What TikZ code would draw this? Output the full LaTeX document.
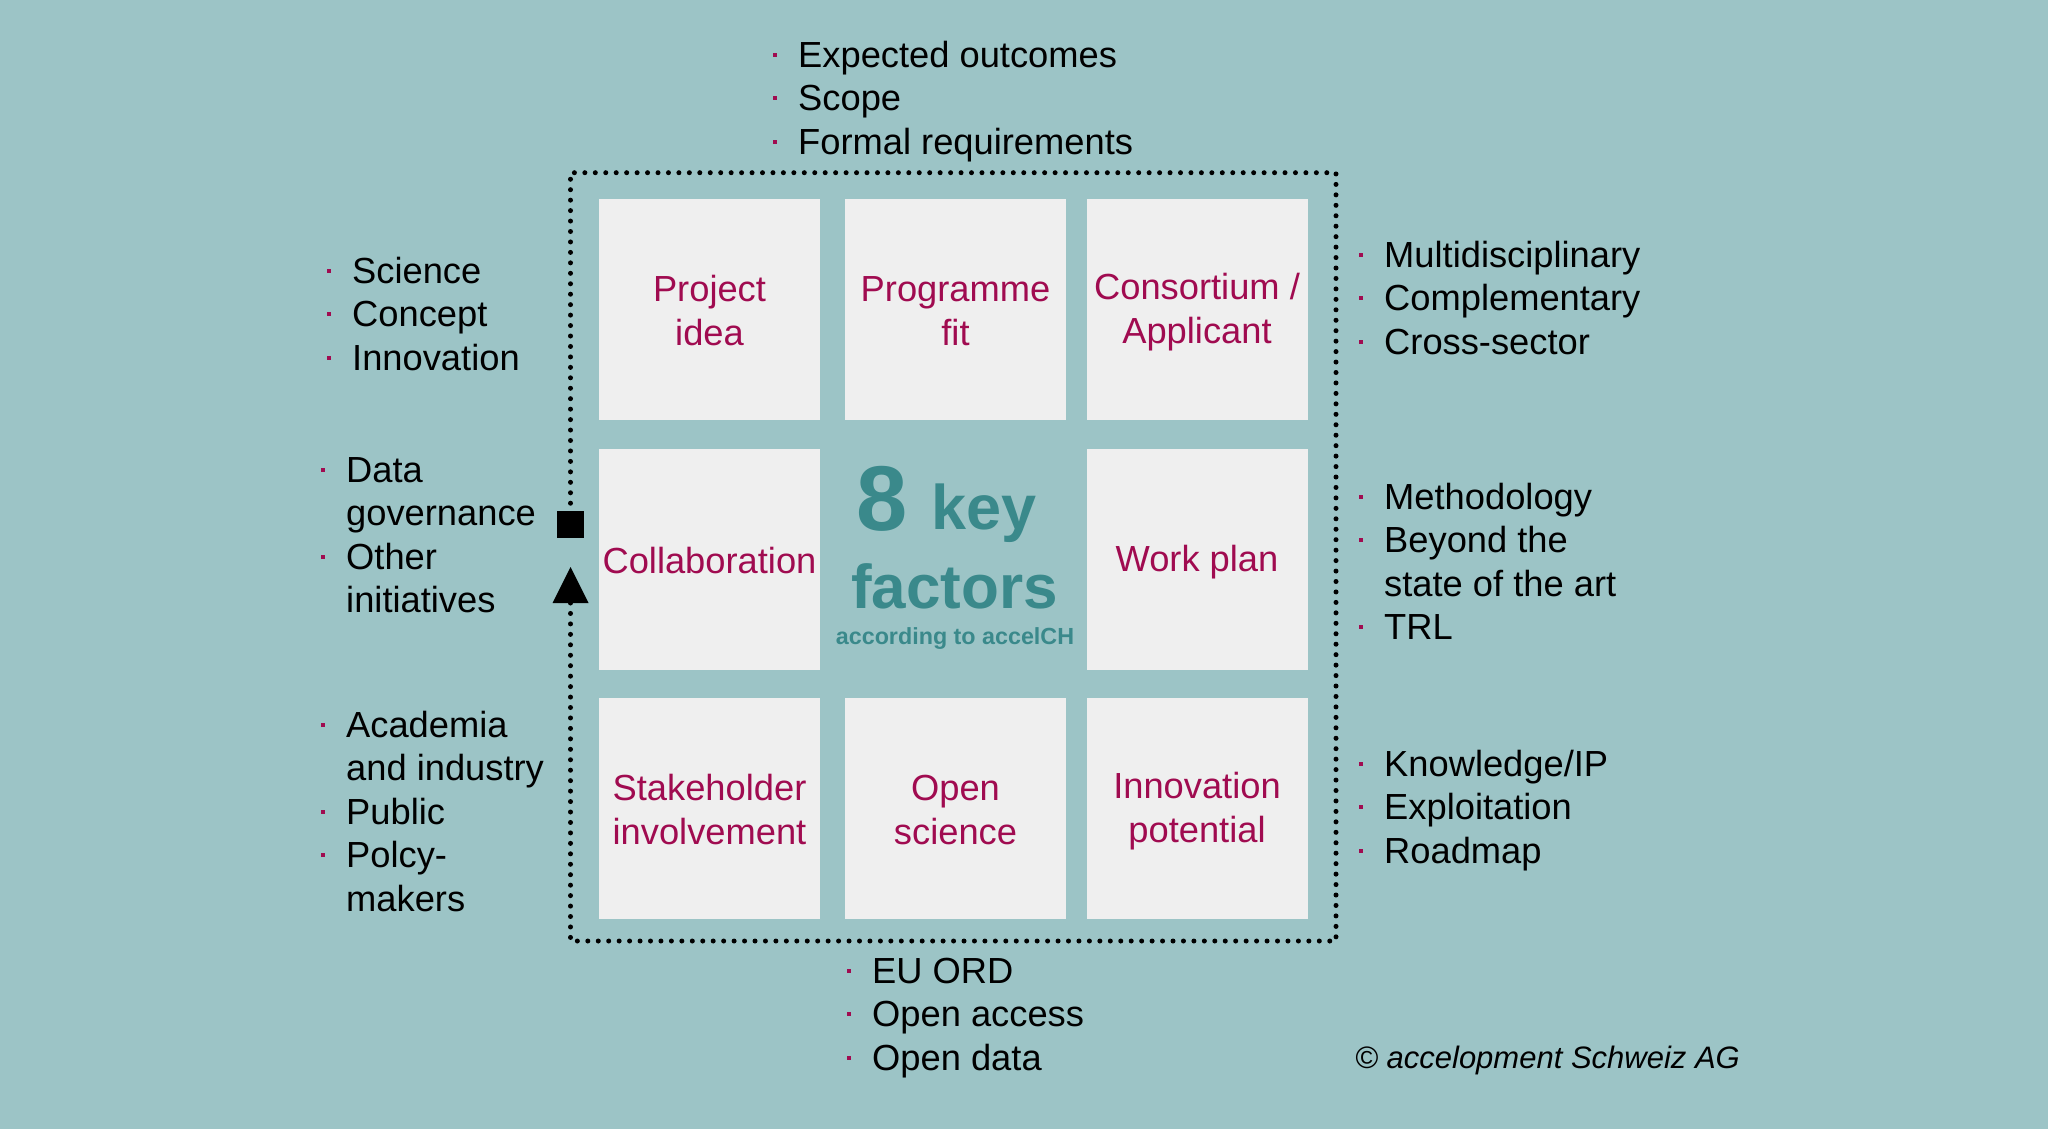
\documentclass[tikz,border=0pt]{standalone}
\usepackage{fontspec}
\setmainfont{Liberation Sans}
\definecolor{bg}{HTML}{9CC4C6}
\definecolor{boxc}{HTML}{EFEFEF}
\definecolor{mag}{HTML}{A00B50}
\definecolor{tealdark}{HTML}{3A898B}
\newcommand\kfItem[4]{%
  \node[bul] (#1b) at (#2-23.5,#3-12.5) {};
  \node[txt] (#1) at (#2,#3) {#4};}
\newcommand\kfLine[4]{%
  \node[txt] (#1) at (#2,#3) {#4};}
\newcommand\kfS{\rule[-4pt]{0pt}{36pt}}
\begin{document}
\begin{tikzpicture}[x=1pt,y=-1pt,
  fbox/.style={fill=boxc, draw=none, minimum width=221pt, minimum height=221pt,
    inner sep=0pt, text=mag, align=center, font=\fontsize{36.3}{43.6}\selectfont},
  txt/.style={anchor=base west, inner sep=0pt, font=\fontsize{36.3}{43.6}\selectfont, text=black},
  bul/.style={fill=mag, minimum size=4pt, inner sep=0pt, draw=none},
  dotline/.style={line width=5pt, line cap=round, dash pattern=on 0pt off 10.45pt},
  kf/.style={text=tealdark, inner sep=0pt, font=\bfseries},
]
\useasboundingbox (0,0) rectangle (2048,1133);
\fill[white] (0,0) rectangle (2048,1133);
\fill[bg] (0,0) rectangle (2048,1129);

% boxes
\node[fbox] (b11) at (709.5,309.5) {\kfS Project\\\kfS idea};
\node[fbox] (b12) at (955.5,309.5) {\kfS Programme\\\kfS fit};
\node[fbox] (b13) at (1197,309.5) {\kfS Consortium /\\\kfS Applicant};
\node[fbox] (b21) at (709.5,559) {\kfS Collaboration};
\node[fbox] (b23) at (1197,559) {\kfS Work plan};
\node[fbox] (b31) at (709.5,808.5) {\kfS Stakeholder\\\kfS involvement};
\node[fbox] (b32) at (955.5,808.5) {\kfS Open\\\kfS science};
\node[fbox] (b33) at (1197,808.5) {\kfS Innovation\\\kfS potential};

% centre title
\node[kf, anchor=base west, font=\bfseries\fontsize{92}{92}\selectfont] (eight) at (856,530) {8};
\node[kf, anchor=base west, font=\bfseries\fontsize{63}{63}\selectfont] (key) at (931,529) {key};
\node[kf, anchor=base, font=\bfseries\fontsize{62}{62}\selectfont] (factors) at (954.5,608) {factors};
\node[kf, anchor=base, font=\bfseries\fontsize{23.3}{23.3}\selectfont] (acc) at (955,644) {according to accelCH};

% dotted frame with markers
\coordinate (tribase) at (570.5,603);
\node[fill=black, minimum size=27pt, inner sep=0pt] (sq) at (570.5,524) {};
\fill[black] (552.5,603) -- (588.5,603) -- (570.5,567) -- cycle;
\draw[dotline] (tribase) -- (570.5,941) -- (1336,941) -- (1336,172.7) -- (570.5,172.7) -- (sq.north);

% top list
\kfItem{t1}{798}{67}{Expected outcomes}
\kfItem{t2}{798}{110.6}{Scope}
\kfItem{t3}{798}{154.2}{Formal requirements}

% left lists
\kfItem{l1}{352}{283}{Science}
\kfItem{l2}{352}{326.6}{Concept}
\kfItem{l3}{352}{370.2}{Innovation}

\kfItem{m1}{346}{482}{Data}
\kfLine{m2}{346}{525.6}{governance}
\kfItem{m3}{346}{569.2}{Other}
\kfLine{m4}{346}{612.8}{initiatives}

\kfItem{n1}{346}{737}{Academia}
\kfLine{n2}{346}{780.6}{and industry}
\kfItem{n3}{346}{824.2}{Public}
\kfItem{n4}{346}{867.8}{Polcy-}
\kfLine{n5}{346}{911.4}{makers}

% right lists
\kfItem{r1}{1384}{267}{Multidisciplinary}
\kfItem{r2}{1384}{310.6}{Complementary}
\kfItem{r3}{1384}{354.2}{Cross-sector}

\kfItem{s1}{1384}{509}{Methodology}
\kfItem{s2}{1384}{552.6}{Beyond the}
\kfLine{s3}{1384}{596.2}{state of the art}
\kfItem{s4}{1384}{639.8}{TRL}

\kfItem{u1}{1384}{776}{Knowledge/IP}
\kfItem{u2}{1384}{819.6}{Exploitation}
\kfItem{u3}{1384}{863.2}{Roadmap}

% bottom list
\kfItem{d1}{872}{983}{EU ORD}
\kfItem{d2}{872}{1026.6}{Open access}
\kfItem{d3}{872}{1070.2}{Open data}

% copyright
\node[anchor=base west, inner sep=0pt, font=\itshape\fontsize{31}{31}\selectfont] (copy) at (1355,1068) {© accelopment Schweiz AG};
\end{tikzpicture}
\end{document}
